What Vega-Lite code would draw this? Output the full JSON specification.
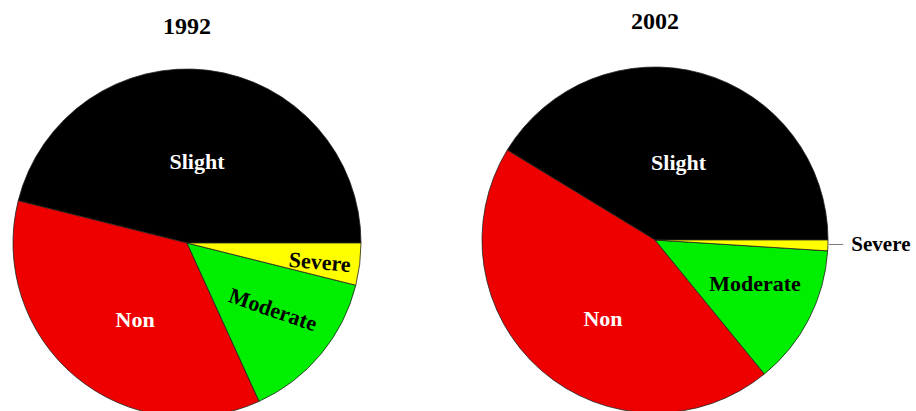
{
  "$schema": "https://vega.github.io/schema/vega-lite/v6.json",
  "padding": {"top": 10, "left": 0, "right": 0, "bottom": 0},
  "spacing": 106,
  "background": "white",
  "config": {
    "view": {"stroke": null},
    "font": "Liberation Serif",
    "title": {"font": "Liberation Serif", "fontSize": 24, "fontWeight": "bold", "color": "#000000", "anchor": "middle"}
  },
  "datasets": {
    "pie": [
      {"year": "1992", "cat": "Slight", "pct": 46.1, "rank": 1},
      {"year": "1992", "cat": "Non", "pct": 35.7, "rank": 2},
      {"year": "1992", "cat": "Moderate", "pct": 14.3, "rank": 3},
      {"year": "1992", "cat": "Severe", "pct": 3.9, "rank": 4},
      {"year": "2002", "cat": "Slight", "pct": 41.3, "rank": 1},
      {"year": "2002", "cat": "Non", "pct": 44.6, "rank": 2},
      {"year": "2002", "cat": "Moderate", "pct": 13.1, "rank": 3},
      {"year": "2002", "cat": "Severe", "pct": 1.0, "rank": 4}
    ]
  },
  "hconcat": [
    {
      "width": 374,
      "height": 340,
      "title": {"text": "1992", "offset": 28},
      "data": {"name": "pie"},
      "transform": [{"filter": "datum.year === '1992'"}],
      "encoding": {
        "theta": {"field": "pct", "type": "quantitative", "stack": true, "scale": {"range": [1.5708, -4.7124]}},
        "order": {"field": "rank", "type": "quantitative"},
        "color": {"field": "cat", "type": "nominal", "scale": {"domain": ["Slight", "Non", "Moderate", "Severe"], "range": ["#000000", "#EE0000", "#00EE00", "#FFFF00"]}, "legend": null}
      },
      "layer": [
        {"mark": {"type": "arc", "radius": 174, "stroke": "#222222", "strokeWidth": 0.8}},
        {"mark": {"type": "text", "radius": 82, "fontSize": 22, "fontWeight": "bold", "font": "Liberation Serif"},
         "encoding": {"color": {"value": "#ffffff"}, "text": {"condition": {"test": "datum.cat === 'Slight'", "field": "cat"}, "value": ""}}},
        {"mark": {"type": "text", "radius": 92, "dx": 7, "dy": 6, "fontSize": 22, "fontWeight": "bold", "font": "Liberation Serif"},
         "encoding": {"color": {"value": "#ffffff"}, "text": {"condition": {"test": "datum.cat === 'Non'", "field": "cat"}, "value": ""}}},
        {"mark": {"type": "text", "radius": 108, "dx": 2, "dy": -3, "angle": 19, "fontSize": 22, "fontWeight": "bold", "font": "Liberation Serif"},
         "encoding": {"color": {"value": "#000000"}, "text": {"condition": {"test": "datum.cat === 'Moderate'", "field": "cat"}, "value": ""}}},
        {"mark": {"type": "text", "radius": 134, "dy": 3, "angle": 5, "fontSize": 22, "fontWeight": "bold", "font": "Liberation Serif"},
         "encoding": {"color": {"value": "#000000"}, "text": {"condition": {"test": "datum.cat === 'Severe'", "field": "cat"}, "value": ""}}}
      ]
    },
    {
      "width": 350,
      "height": 334,
      "title": {"text": "2002", "offset": 28},
      "data": {"name": "pie"},
      "transform": [{"filter": "datum.year === '2002'"}],
      "encoding": {
        "theta": {"field": "pct", "type": "quantitative", "stack": true, "scale": {"range": [1.5708, -4.7124]}},
        "order": {"field": "rank", "type": "quantitative"},
        "color": {"field": "cat", "type": "nominal", "scale": {"domain": ["Slight", "Non", "Moderate", "Severe"], "range": ["#000000", "#EE0000", "#00EE00", "#FFFF00"]}, "legend": null}
      },
      "layer": [
        {"mark": {"type": "arc", "radius": 173, "stroke": "#222222", "strokeWidth": 0.8}},
        {"mark": {"type": "text", "radius": 80, "dx": 2, "fontSize": 22, "fontWeight": "bold", "font": "Liberation Serif"},
         "encoding": {"color": {"value": "#ffffff"}, "text": {"condition": {"test": "datum.cat === 'Slight'", "field": "cat"}, "value": ""}}},
        {"mark": {"type": "text", "radius": 96, "dx": 11, "dy": 7, "fontSize": 22, "fontWeight": "bold", "font": "Liberation Serif"},
         "encoding": {"color": {"value": "#ffffff"}, "text": {"condition": {"test": "datum.cat === 'Non'", "field": "cat"}, "value": ""}}},
        {"mark": {"type": "text", "radius": 108, "dx": 4, "dy": -5, "fontSize": 22, "fontWeight": "bold", "font": "Liberation Serif"},
         "encoding": {"color": {"value": "#000000"}, "text": {"condition": {"test": "datum.cat === 'Moderate'", "field": "cat"}, "value": ""}}},
        {"mark": {"type": "text", "radius": 173, "dx": 53, "dy": 0, "fontSize": 21, "fontWeight": "bold", "font": "Liberation Serif"},
         "encoding": {"color": {"value": "#000000"}, "text": {"condition": {"test": "datum.cat === 'Severe'", "field": "cat"}, "value": ""}}},
        {"mark": {"type": "text", "radius": 173, "dx": 8, "dy": -1, "fontSize": 14, "font": "Liberation Serif"},
         "encoding": {"color": {"value": "#000000"}, "text": {"condition": {"test": "datum.cat === 'Severe'", "value": "—"}, "value": ""}}}
      ]
    }
  ]
}
